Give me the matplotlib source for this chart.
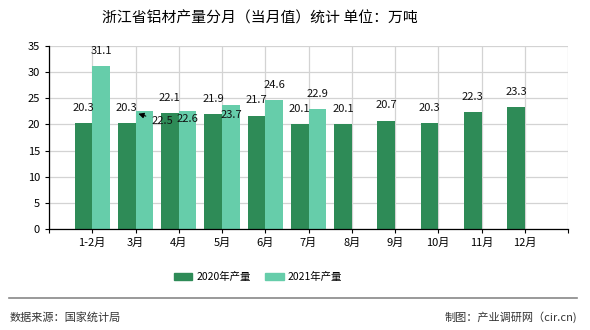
import matplotlib
matplotlib.use("Agg")
import matplotlib.pyplot as plt
from matplotlib.lines import Line2D
from matplotlib.patches import Patch

plt.rcParams['font.family'] = ['Noto Sans CJK SC', 'DejaVu Sans']

categories = ['1-2月', '3月', '4月', '5月', '6月', '7月', '8月', '9月', '10月', '11月', '12月']
values_2020 = [20.3, 20.3, 22.1, 21.9, 21.7, 20.1, 20.1, 20.7, 20.3, 22.3, 23.3]
values_2021 = [31.1, 22.5, 22.6, 23.7, 24.6, 22.9]
series_names = ['2020年产量', '2021年产量']
title = '浙江省铝材产量分月（当月值）统计 单位：万吨'

c2020 = '#2E8B57'
c2021 = '#66CDAA'

fig = plt.figure(figsize=(5.9, 3.3), dpi=100)
ax = fig.add_axes([49/590, 1-229/330, (568-49)/590, (229-46)/330])

w = 0.41
pos = list(range(1, len(categories) + 1))
ax.bar([p - w/2 for p in pos], values_2020, width=w, color=c2020, zorder=3)
ax.bar([p + w/2 for p in pos[:len(values_2021)]], values_2021, width=w, color=c2021, zorder=3)

lab_kw = dict(ha='center', va='center', fontsize=8, color='#111111', zorder=5)
for p, v in zip(pos, values_2020):
    ax.annotate(f'{v}', (p - w/2, v), xytext=(0, 11), textcoords='offset points', **lab_kw)
for i, (p, v) in enumerate(zip(pos, values_2021)):
    if i == 1:
        ax.annotate(f'{v}', (p + w/2 - 0.2, v - 0.3), xytext=(19, -6), textcoords='offset points',
                    arrowprops=dict(arrowstyle='-|>', color='black', lw=0.8), **lab_kw)
    elif i == 2:
        ax.annotate(f'{v}', (p + w/2, v), xytext=(0, -6), textcoords='offset points', **lab_kw)
    elif i == 3:
        ax.annotate(f'{v}', (p + w/2, v), xytext=(0, -7), textcoords='offset points', **lab_kw)
    else:
        ax.annotate(f'{v}', (p + w/2, v), xytext=(0, 11), textcoords='offset points', **lab_kw)

ax.set_xlim(0, len(categories) + 1)
ax.set_ylim(0, 35)
ax.set_yticks(range(0, 36, 5))
ax.set_xticks(range(0, len(categories) + 2))
ax.set_xticklabels([''] + categories + [''])
ax.tick_params(axis='both', labelsize=8, length=3, color='black')
ax.grid(True, color='#d3d3d3', lw=0.9, zorder=0)
for s in ['top', 'right']:
    ax.spines[s].set_visible(False)
for s in ['left', 'bottom']:
    ax.spines[s].set_color('black')
    ax.spines[s].set_linewidth(0.9)
    ax.spines[s].set_zorder(4)

fig.text(260/590, 1 - 18/330, title, ha='center', va='center', fontsize=10.7)

handles = [Patch(color=c2020), Patch(color=c2021)]
fig.legend(handles, series_names, loc='center', bbox_to_anchor=(258/590, 1 - 277/330), ncol=2,
           frameon=False, fontsize=7.5, handlelength=1.8, handleheight=0.75, columnspacing=1.35,
           handletextpad=0.4)

fig.add_artist(Line2D([9/590, 577/590], [1 - 298/330, 1 - 298/330], color='#888888', lw=1.2))
fig.text(10/590, 1 - 317/330, '数据来源：国家统计局', ha='left', va='center', fontsize=8, color='#333333')
fig.text(577/590, 1 - 317/330, '制图：产业调研网（cir.cn)', ha='right', va='center', fontsize=8, color='#333333')

fig.savefig('out.png', dpi=100)
